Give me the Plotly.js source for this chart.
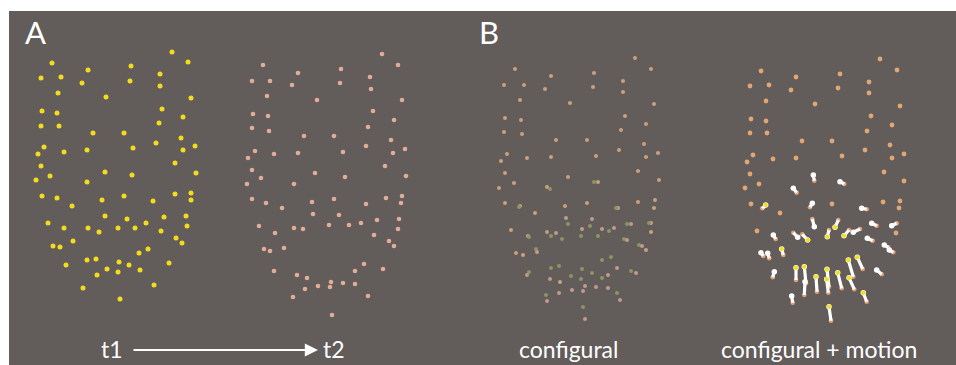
<!DOCTYPE html>
<html>
<head>
<meta charset="utf-8">
<script src="https://cdn.plot.ly/plotly-3.0.1.min.js"></script>
<style>html,body{margin:0;padding:0;background:#fff;}#chart{width:956px;height:365px;}</style>
</head>
<body>
<div id="chart"></div>
<script>
// Panel A, t1 (yellow)
const t1X = [172,52,188,88,131,160,41,61,82,130,160,58,106,191,42,57,162,183,41,59,159,93,124,181,44,64,87,133,156,183,195,38,41,175,50,105,132,196,36,87,42,57,72,102,124,153,175,191,191,48,64,88,99,105,127,118,135,146,164,186,187,161,176,182,73,53,60,139,148,66,87,96,119,129,107,118,140,169,97,83,154,120];
const t1Y = [52,63,62,70,66,74,78,77,83,81,86,93,97,98,111,113,109,117,126,126,123,133,133,138,147,152,150,148,143,150,146,154,166,163,176,172,175,173,180,182,196,198,206,200,196,201,194,193,200,223,228,228,232,216,219,228,228,223,217,216,226,231,238,243,241,246,247,253,249,265,260,259,262,265,269,272,270,263,275,288,285,299];
// Panel A, t2 (pink)
const t2X = [382,263,398,298,341,370,252,270,292,340,371,267,317,402,253,268,373,394,252,269,368,304,334,391,255,248,274,298,343,366,393,405,252,385,261,315,345,406,247,294,252,266,282,312,334,366,386,402,401,313,339,259,275,294,303,329,349,361,377,399,398,374,389,394,264,270,284,364,355,383,274,297,307,331,343,355,318,330,305,293,368,332];
const t2Y = [54,65,65,73,69,77,81,81,85,83,89,96,100,100,114,116,111,120,128,131,127,136,136,140,151,158,154,153,152,146,153,149,170,166,178,173,177,176,184,184,199,203,208,202,199,204,198,196,203,214,215,226,233,228,229,225,225,223,220,219,229,235,241,246,249,251,248,264,271,269,271,275,278,282,283,284,286,287,289,297,296,315];
// Panel B, configural (tan / green / pink dots)
const cfgTanX = [635,515,651,551,594,623,504,524,545,593,623,520,570,654,505,521,625,646,504,522,621,556,587,644,507,501,527,551,596,619,646,658,505,638,568,659,598,514,499,547,505,520,535,565,587,618,638,655,654,651,651,511,528,646,516,523,560];
const cfgTanY = [58,69,69,76,73,81,85,85,89,87,92,100,103,104,118,120,116,124,132,134,130,140,140,144,154,161,158,157,156,150,157,153,173,171,177,180,182,183,188,187,203,206,213,206,203,208,202,200,208,223,232,230,236,250,253,255,282];
const cfgGreenX = [594,550,519,616,568,590,609,627,649,529,551,562,581,598,624,639,536,602,611,529,551,559,582,592,631,571,581,602,617,546,583];
const cfgGreenY = [182,189,207,208,224,226,231,224,223,237,236,239,236,236,239,245,249,260,257,272,268,266,269,273,271,276,279,278,293,295,307];
const cfgPinkX = [566,592,582,602,614,631,547,556,627,642,537,527,617,636,550,608,585,596,608,572,583,559,547,620,585];
const cfgPinkY = [218,219,229,229,228,224,232,233,240,246,252,275,268,273,279,275,286,287,288,290,291,293,301,300,319];
// Panel B, configural + motion: static dots
const motDotX = [880,761,897,796,840,869,750,769,791,838,869,766,815,900,751,766,871,892,750,767,867,802,832,890,753,747,773,796,842,865,892,904,750,884,904,759,745,751,780,832,883,900,899,757,896];
const motDotY = [59,71,70,77,74,82,86,85,90,88,93,101,104,106,119,121,116,125,133,133,131,141,141,145,155,162,159,158,156,150,158,154,174,172,181,184,188,204,213,204,202,201,208,231,233];
// motion vectors: start (head) and end (tail)
const arrX0 = [813.3,840.0,793.3,765.7,812.3,861.7,814.3,835.0,871.7,891.7,773.3,797.7,807.7,827.3,844.0,853.3,867.3,884.3,889.3,761.0,767.7,781.7,848.3,857.3,876.7,774.3,796.0,804.3,805.0,816.0,827.0,826.7,837.7,849.0,863.3,791.7,829.0];
const arrY0 = [175.0,181.7,188.3,205.0,203.3,208.3,226.7,227.3,223.3,225.7,235.0,237.3,240.0,236.7,235.7,232.3,238.3,245.0,250.0,252.7,253.3,249.0,260.0,257.3,270.0,271.7,267.7,266.7,281.7,276.7,269.3,279.3,272.7,277.7,292.7,296.0,306.7];
const arrX1 = [814.3,844.3,796.7,762.3,810.0,866.7,812.3,838.3,876.7,896.7,775.7,793.3,802.3,829.0,849.0,860.0,872.7,888.3,893.3,763.3,769.3,783.3,853.3,862.7,881.7,772.7,796.0,806.0,804.3,817.0,829.0,828.3,841.7,854.3,866.7,792.7,831.0];
const arrY1 = [180.7,184.0,192.7,208.3,207.3,209.3,219.0,220.0,225.7,223.3,239.0,232.7,234.3,230.0,230.0,229.0,240.7,247.3,252.3,256.0,258.3,255.0,276.7,269.0,274.3,277.3,280.0,283.3,295.0,291.7,286.7,292.7,288.3,289.3,301.7,302.7,320.7];
const arrLit = [0,0,0,1,0,0,0,1,0,0,0,0,1,1,1,0,0,0,0,0,0,1,1,1,0,0,1,1,0,1,1,1,1,1,1,0,1];
// labels
const panelLabels = ["A","B"];
const captions = ["t1","t2","configural","configural + motion"];

const segX = [], segY = [], headX = [], headY = [], litX = [], litY = [];
arrX0.forEach((x,i)=>{
  segX.push(x, arrX1[i], null); segY.push(arrY0[i], arrY1[i], null);
  headX.push(x); headY.push(arrY0[i]);
  if (arrLit[i]) { litX.push(x); litY.push(arrY0[i]); }
});

const dots = (x,y,color,size,name)=>({type:'scatter',mode:'markers',x:x,y:y,name:name,hoverinfo:'skip',
  marker:{color:color,size:size,line:{width:0}}});

const traces = [
  dots(t1X,t1Y,'#f3dc1c',5,'t1'),
  dots(t2X,t2Y,'#e2ac96',4.6,'t2'),
  dots(cfgTanX,cfgTanY,'#c9a27c',4,'cfg tan'),
  dots(cfgGreenX,cfgGreenY,'#8e9560',4,'cfg green'),
  dots(cfgPinkX,cfgPinkY,'#c29a8e',4,'cfg pink'),
  dots(motDotX,motDotY,'#e2a574',4.8,'motion dots'),
  dots(arrX1,arrY1,'#e0a074',4.6,'tails'),
  {type:'scatter',mode:'lines',x:segX,y:segY,hoverinfo:'skip',line:{color:'#ffffff',width:3.2}},
  dots(headX,headY,'#ffffff',5.5,'heads'),
  dots(litX,litY,'#f5e020',4.6,'lit')
];

const labelFont = {family:'Lato, "Open Sans", sans-serif', color:'#ffffff', size:23};
const layout = {
  width:956, height:365, margin:{l:0,r:0,t:0,b:0},
  paper_bgcolor:'#ffffff', plot_bgcolor:'#ffffff', showlegend:false,
  xaxis:{range:[0,956], visible:false, fixedrange:true},
  yaxis:{range:[365,0], visible:false, fixedrange:true},
  shapes:[{type:'rect', xref:'x', yref:'y', x0:9, x1:956, y0:11, y1:365, fillcolor:'#625c5b', line:{width:0}, layer:'below'}],
  annotations:[
    {x:23, y:32, xref:'x', yref:'y', xanchor:'left', yanchor:'middle', text:panelLabels[0], showarrow:false, font:{family:'Lato, sans-serif', color:'#ffffff', size:31}},
    {x:477, y:32, xref:'x', yref:'y', xanchor:'left', yanchor:'middle', text:panelLabels[1], showarrow:false, font:{family:'Lato, sans-serif', color:'#ffffff', size:31}},
    {x:112, y:349, xref:'x', yref:'y', xanchor:'center', yanchor:'middle', text:captions[0], showarrow:false, font:labelFont},
    {x:334, y:349, xref:'x', yref:'y', xanchor:'center', yanchor:'middle', text:captions[1], showarrow:false, font:labelFont},
    {x:568, y:349, xref:'x', yref:'y', xanchor:'center', yanchor:'middle', text:captions[2], showarrow:false, font:labelFont},
    {x:819, y:349, xref:'x', yref:'y', xanchor:'center', yanchor:'middle', text:captions[3], showarrow:false, font:labelFont},
    {x:318, y:350, ax:132, ay:350, xref:'x', yref:'y', axref:'x', ayref:'y', text:'', showarrow:true, arrowhead:2, arrowsize:1.2, arrowwidth:2.2, arrowcolor:'#ffffff'}
  ]
};
Plotly.newPlot('chart', traces, layout, {displayModeBar:false, staticPlot:true});
</script>
</body>
</html>
